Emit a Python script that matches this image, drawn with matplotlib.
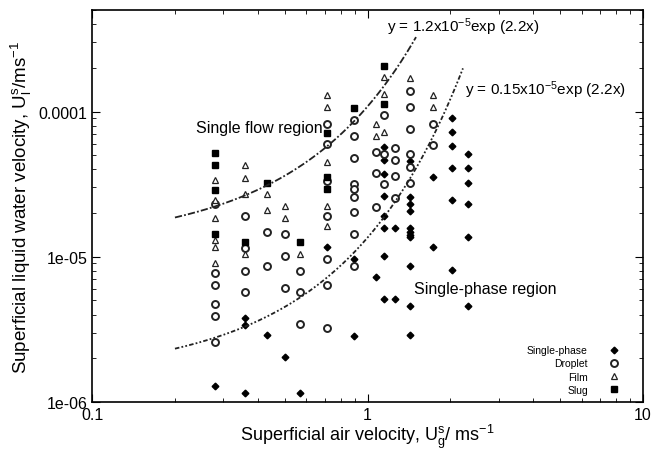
import matplotlib
matplotlib.use('Agg')
import matplotlib.pyplot as plt
import numpy as np

plt.rcParams['font.family'] = ['Liberation Sans', 'DejaVu Sans']
plt.rcParams['mathtext.fontset'] = 'custom'
plt.rcParams['mathtext.rm'] = 'Liberation Sans'
plt.rcParams['mathtext.it'] = 'Liberation Sans'

# data (superficial air velocity, superficial water velocity)
single_x = [0.28, 0.36, 0.36, 0.36, 0.43, 0.50, 0.57, 0.71, 0.89, 0.89, 1.07,
            1.15, 1.15, 1.15, 1.15, 1.15, 1.15, 1.15, 1.15, 1.26, 1.26,
            1.43, 1.43, 1.43, 1.43, 1.43, 1.43, 1.43, 1.43, 1.43, 1.43, 1.43, 1.43,
            1.73, 1.73, 2.03, 2.03, 2.03, 2.03, 2.03, 2.03,
            2.31, 2.31, 2.31, 2.31, 2.31, 2.31]
single_y = [1.28e-6, 3.8e-6, 3.4e-6, 1.15e-6, 2.9e-6, 2.03e-6, 1.15e-6, 1.17e-5, 9.7e-6, 2.86e-6, 7.3e-6,
            5.7e-5, 4.6e-5, 3.7e-5, 2.6e-5, 1.91e-5, 1.57e-5, 1.01e-5, 5.1e-6, 1.57e-5, 5.1e-6,
            4.57e-5, 3.24e-5, 2.58e-5, 2.3e-5, 2.06e-5, 1.57e-5, 1.49e-5, 1.42e-5, 1.37e-5, 8.6e-6, 4.6e-6, 2.89e-6,
            3.54e-5, 1.17e-5, 9.05e-5, 7.25e-5, 5.78e-5, 4.1e-5, 2.44e-5, 8.1e-6,
            5.06e-5, 4.1e-5, 3.24e-5, 2.3e-5, 1.37e-5, 4.6e-6]

droplet_x = [0.28, 0.28, 0.28, 0.28, 0.28, 0.28,
             0.36, 0.36, 0.36, 0.36, 0.43, 0.43, 0.50, 0.50, 0.50, 0.57, 0.57, 0.57,
             0.71, 0.71, 0.71, 0.71, 0.71, 0.71, 0.71,
             0.89, 0.89, 0.89, 0.89, 0.89, 0.89, 0.89, 0.89, 0.89,
             1.07, 1.07, 1.07, 1.15, 1.15, 1.15, 1.26, 1.26, 1.26, 1.26,
             1.43, 1.43, 1.43, 1.43, 1.43, 1.43, 1.73, 1.73]
droplet_y = [2.3e-5, 7.7e-6, 6.4e-6, 4.7e-6, 3.9e-6, 2.57e-6,
             1.91e-5, 1.14e-5, 8.0e-6, 5.7e-6, 1.47e-5, 8.7e-6, 1.43e-5, 1.01e-5, 6.1e-6, 8.0e-6, 5.7e-6, 3.44e-6,
             8.2e-5, 6.0e-5, 3.33e-5, 1.92e-5, 9.6e-6, 6.4e-6, 3.21e-6,
             8.7e-5, 6.8e-5, 4.8e-5, 3.18e-5, 2.94e-5, 2.58e-5, 2.03e-5, 1.44e-5, 8.65e-6,
             5.25e-5, 3.8e-5, 2.21e-5, 9.4e-5, 5.12e-5, 3.15e-5, 5.6e-5, 4.6e-5, 3.6e-5, 2.52e-5,
             1.38e-4, 1.08e-4, 7.6e-5, 5.12e-5, 4.14e-5, 3.24e-5, 8.2e-5, 5.9e-5]

film_x = [0.28, 0.28, 0.28, 0.28, 0.28, 0.28, 0.36, 0.36, 0.36, 0.36,
          0.43, 0.43, 0.50, 0.50, 0.57, 0.71, 0.71, 0.71, 0.71, 0.71,
          1.07, 1.07, 1.15, 1.15, 1.15, 1.43, 1.73, 1.73]
film_y = [3.36e-5, 2.45e-5, 1.84e-5, 1.3e-5, 1.17e-5, 9.1e-6, 4.25e-5, 3.5e-5, 2.69e-5, 1.04e-5,
          2.69e-5, 2.09e-5, 2.24e-5, 1.86e-5, 1.04e-5, 1.29e-4, 1.08e-4, 4.5e-5, 2.24e-5, 1.63e-5,
          8.2e-5, 6.8e-5, 1.72e-4, 1.32e-4, 7.25e-5, 1.69e-4, 1.29e-4, 1.07e-4]

slug_x = [0.28, 0.28, 0.28, 0.28, 0.36, 0.43, 0.57, 0.71, 0.71, 0.71, 0.89, 1.15, 1.15]
slug_y = [5.2e-5, 4.3e-5, 2.9e-5, 1.43e-5, 1.26e-5, 3.24e-5, 1.27e-5, 7.1e-5, 3.54e-5, 2.91e-5,
          1.06e-4, 2.07e-4, 1.13e-4]

# boundary fits y = a*exp(b*x)
upper_a, upper_b, upper_range = 1.2e-5, 2.2, (0.2, 1.5)
lower_a, lower_b, lower_range = 0.15e-5, 2.2, (0.2, 2.22)

fig = plt.figure(figsize=(6.54, 4.52), dpi=100)
ax = fig.add_axes([0.1407, 0.1084, 0.8425, 0.8673])

ax.plot(single_x, single_y, linestyle='none', marker='D', ms=3.4, mfc='black', mec='black',
        label='Single-phase')
ax.plot(droplet_x, droplet_y, linestyle='none', marker='o', ms=5.0, mfc='white', mec='#222222',
        mew=1.4, label='Droplet')
ax.plot(film_x, film_y, linestyle='none', marker='^', ms=4.3, mfc='white', mec='#222222',
        mew=0.9, label='Film')
ax.plot(slug_x, slug_y, linestyle='none', marker='s', ms=5.0, mfc='black', mec='black',
        label='Slug')

xu = np.linspace(upper_range[0], upper_range[1], 200)
ax.plot(xu, upper_a * np.exp(upper_b * xu), color='#222222', lw=1.3,
        dashes=(4, 1.2, 1, 1.2))
xl = np.linspace(lower_range[0], lower_range[1], 200)
ax.plot(xl, lower_a * np.exp(lower_b * xl), color='#222222', lw=1.3,
        dashes=(2.5, 1.2, 1, 1.2, 1, 1.2))

ax.set_xscale('log')
ax.set_yscale('log')
ax.set_xlim(0.1, 10)
ax.set_ylim(1e-6, 5e-4)
ax.set_xticks([0.1, 1, 10])
ax.set_xticklabels(['0.1', '1', '10'])
ax.set_yticks([1e-6, 1e-5, 1e-4])
ax.set_yticklabels(['1e-06', '1e-05', '0.0001'])
ax.tick_params(which='both', direction='in', top=True, right=True, labelsize=11.5)
ax.tick_params(which='major', length=6)
ax.tick_params(which='minor', length=3)
for s in ax.spines.values():
    s.set_linewidth(1.2)

ax.set_xlabel(r'Superficial air velocity, U$_g^s$/ ms$^{-1}$', fontsize=13, labelpad=0)
ax.set_ylabel(r'Superficial liquid water velocity, U$_l^s$/ms$^{-1}$', fontsize=13.5, labelpad=3)

ax.text(1.18, 3.85e-4, r'y = 1.2x10$^{-5}$exp (2.2x)', fontsize=11, va='center')
ax.text(2.25, 1.42e-4, r'y = 0.15x10$^{-5}$exp (2.2x)', fontsize=11, va='center')
ax.text(0.239, 7.8e-5, 'Single flow region', fontsize=11.5, va='center')
ax.text(1.47, 6.0e-6, 'Single-phase region', fontsize=11.5, va='center')

ax.legend(loc='lower right', bbox_to_anchor=(0.97, 0.0), markerfirst=False, frameon=False,
          fontsize=7.5, labelspacing=0.3, handlelength=1.0, handletextpad=2.0,
          borderaxespad=0.3, numpoints=1)

fig.savefig('out.png', dpi=100)
